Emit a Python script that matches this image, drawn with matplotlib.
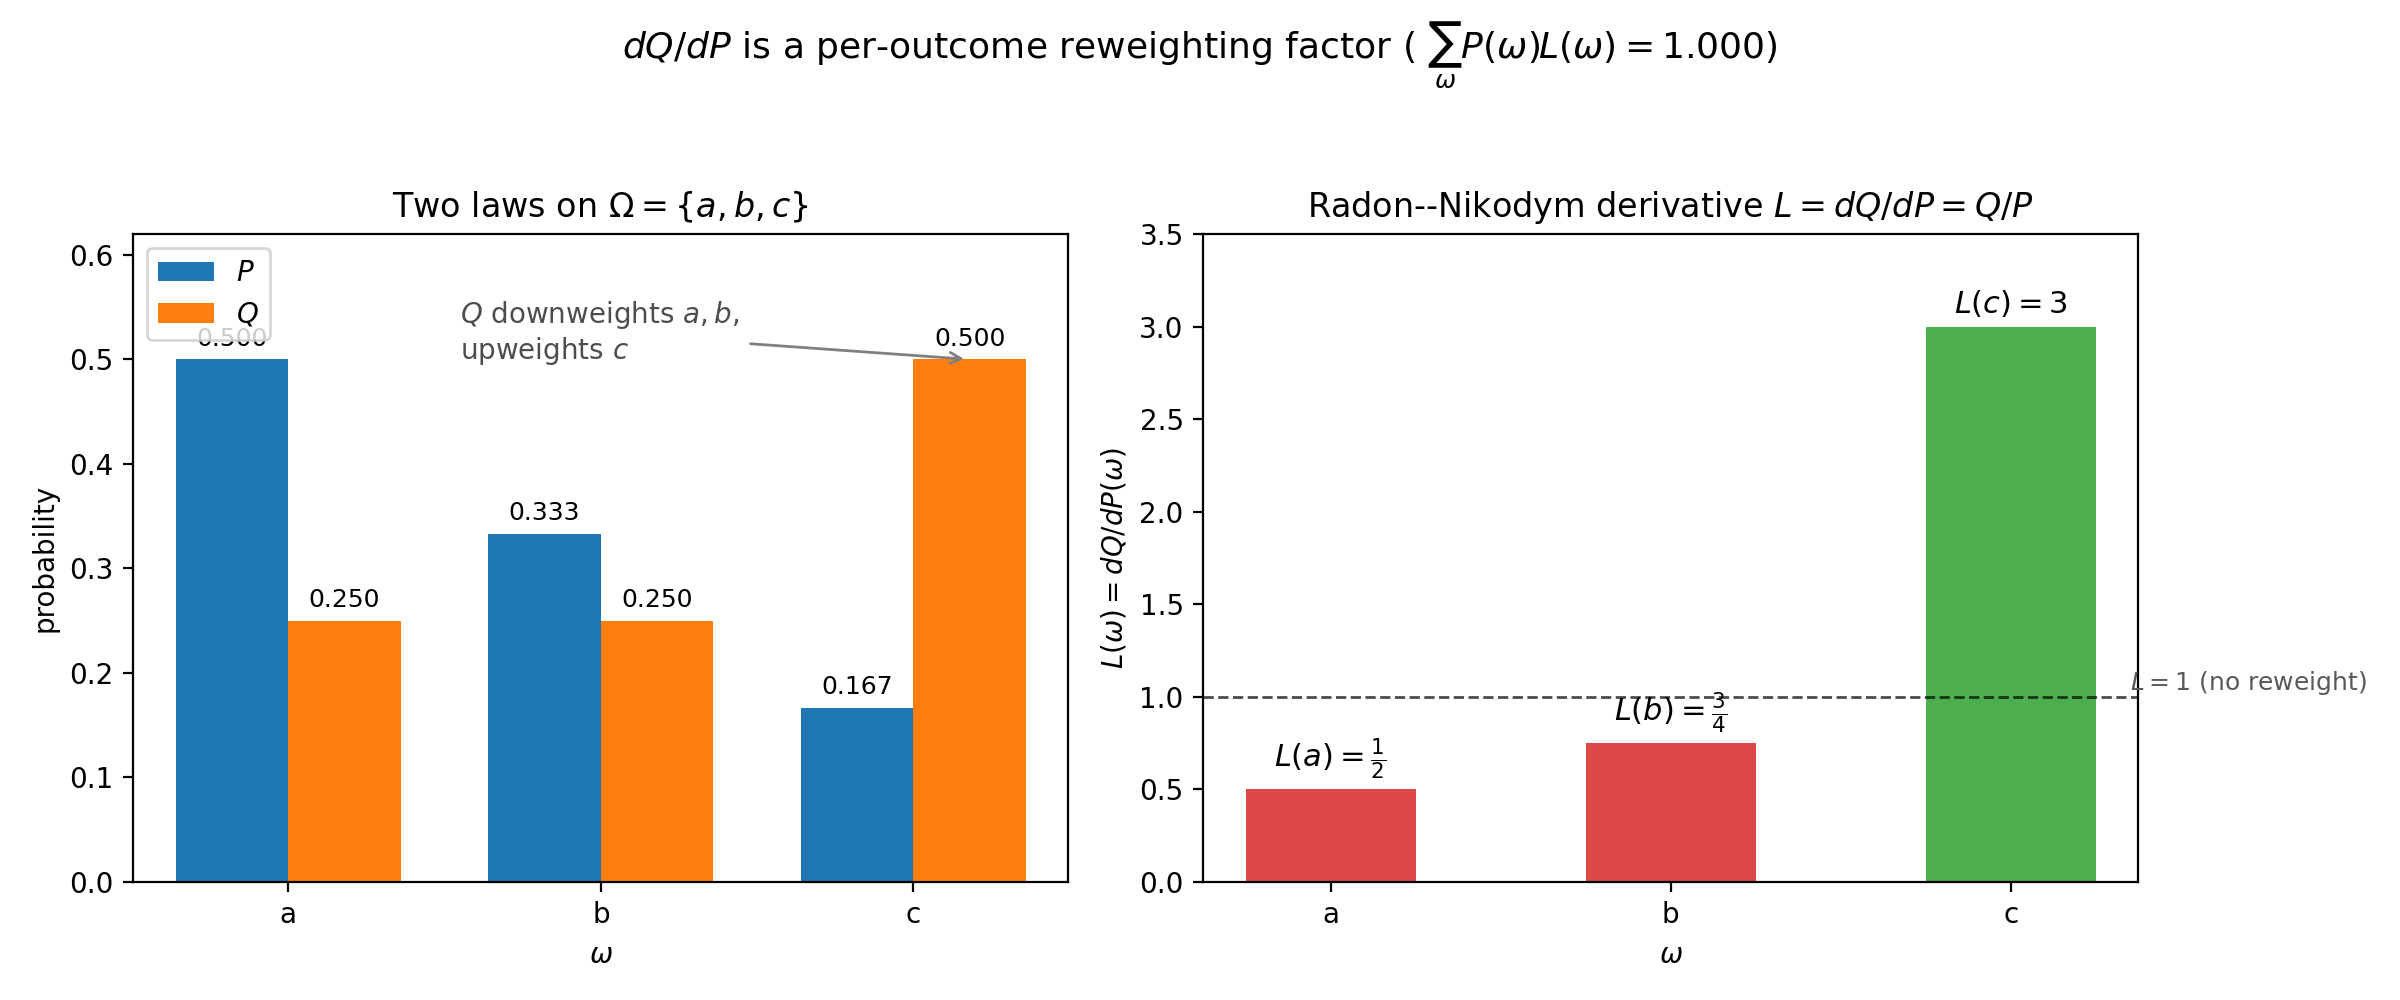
import matplotlib
matplotlib.use("Agg")
import matplotlib.pyplot as plt
import numpy as np

outcomes = ["a", "b", "c"]
P_vals = [1/2, 1/3, 1/6]
Q_vals = [1/4, 1/4, 1/2]
L_vals = [q / p for p, q in zip(P_vals, Q_vals)]
L_labels = [r"$L(a)=\frac{1}{2}$", r"$L(b)=\frac{3}{4}$", r"$L(c)=3$"]
total = sum(p * l for p, l in zip(P_vals, L_vals))

fig, (ax1, ax2) = plt.subplots(1, 2, figsize=(12, 5), dpi=200)
fig.subplots_adjust(left=0.0555, right=0.891, bottom=0.118, top=0.766, wspace=0.144)

x = np.arange(len(outcomes))
w = 0.36
bP = ax1.bar(x - w/2, P_vals, w, color="#1f77b4", label="$P$")
bQ = ax1.bar(x + w/2, Q_vals, w, color="#ff7f0e", label="$Q$")
ax1.bar_label(bP, labels=[f"{v:.3f}" for v in P_vals], padding=3, fontsize=9)
ax1.bar_label(bQ, labels=[f"{v:.3f}" for v in Q_vals], padding=3, fontsize=9)
ax1.set_xticks(x)
ax1.set_xticklabels(outcomes)
ax1.set_ylim(0, 0.62)
ax1.set_xlabel(r"$\omega$")
ax1.set_ylabel("probability")
ax1.set_title(r"Two laws on $\Omega=\{a,b,c\}$", fontsize=12)
ax1.legend(loc="upper left")
ax1.annotate("$Q$ downweights $a,b$,\nupweights $c$",
             xy=(2 + w/2, Q_vals[2]), xytext=(0.55, 0.50),
             fontsize=10, color="0.3",
             arrowprops=dict(arrowstyle="->", color="gray", lw=1))

colors = ["#d62728" if l < 1 else "#2ca02c" for l in L_vals]
ax2.bar(x, L_vals, 0.5, color=colors, alpha=0.85)
for xi, l, lab in zip(x, L_vals, L_labels):
    ax2.text(xi, l + 0.04, lab, ha="center", va="bottom", fontsize=11)
ax2.axhline(1.0, color="k", ls="--", lw=1, alpha=0.7)
ax2.text(2.35, 1.0, r"$L=1$ (no reweight)", fontsize=9, color="0.35", va="bottom")
ax2.set_xticks(x)
ax2.set_xticklabels(outcomes)
ax2.set_ylim(0, 3.5)
ax2.set_xlabel(r"$\omega$")
ax2.set_ylabel(r"$L(\omega)=dQ/dP(\omega)$")
ax2.set_title(r"Radon--Nikodym derivative $L=dQ/dP=Q/P$", fontsize=12)

fig.suptitle(r"$dQ/dP$ is a per-outcome reweighting factor ( $\sum_\omega P(\omega)L(\omega)=$" + f"${total:.3f}$)",
             fontsize=13)

fig.savefig("out.png", dpi=200)
